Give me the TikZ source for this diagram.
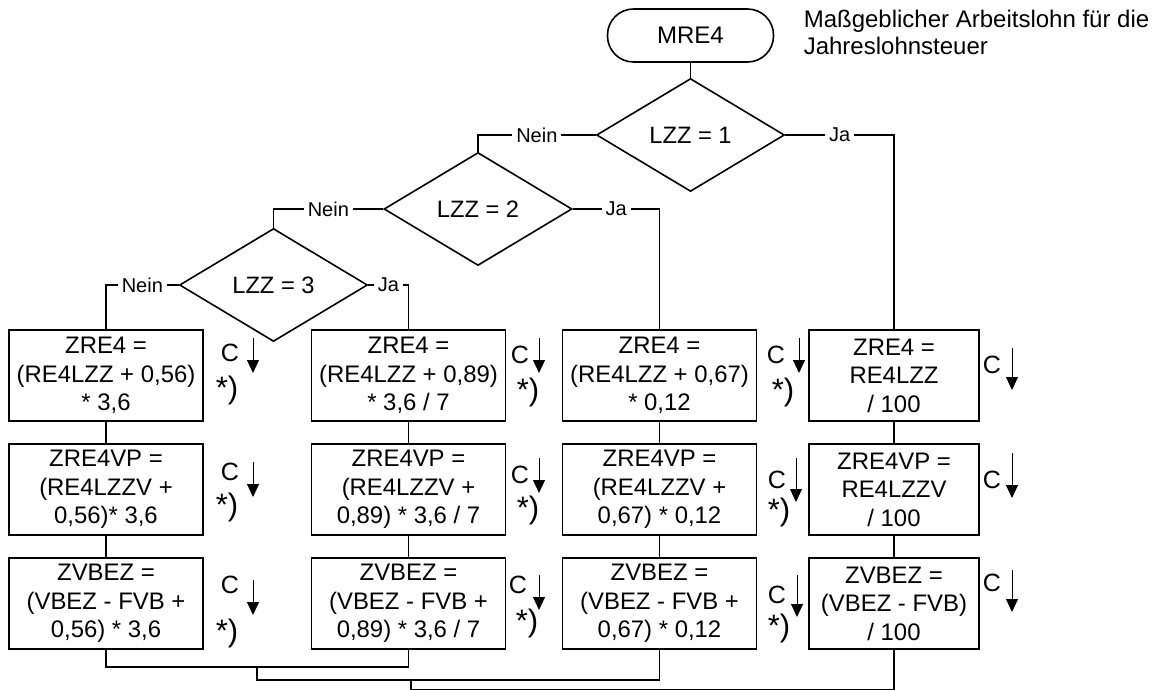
\documentclass[tikz,border=0pt]{standalone}
\usepackage{fontspec}
\setmainfont{Liberation Sans}
\usetikzlibrary{arrows.meta, positioning, calc, shapes.geometric}

\tikzset{
  term/.style={draw, rounded corners=26pt, minimum width=166pt, minimum height=53pt, font=\fontsize{24}{28}\selectfont},
  test/.style={draw, diamond, minimum width=188pt, minimum height=113pt, inner sep=0pt, font=\fontsize{23.7}{28}\selectfont},
  calcbox/.style={draw, minimum width=194pt, minimum height=91pt, inner sep=2pt, align=center, font=\fontsize{23.9}{28.5}\selectfont},
  lbl/.style={fill=white, inner xsep=4pt, inner ysep=1pt, font=\fontsize{20}{24}\selectfont},
  hint/.style={inner sep=0pt, font=\fontsize{25}{28}\selectfont},
  star/.style={inner sep=0pt, font=\fontsize{31}{34}\selectfont},
  hintarrow/.style={line width=1pt, -{Triangle[length=13pt,width=12pt]}}
}

\begin{document}
\begin{tikzpicture}[x=1pt, y=-1pt, line width=1.6pt]
				\useasboundingbox (0,0) rectangle (1161,690);
				
				% Start and remark
				\node[term] (mre4) at (690.5,35.5) {MRE4};
				\node[anchor=north west, align=left, inner sep=0pt, font=\fontsize{24}{27}\selectfont] (remark) at (803,9.5) {Maßgeblicher Arbeitslohn für die\\Jahreslohnsteuer};
				
				% Decisions
				\node[test] (lzz1) at (690.5,135) {LZZ = 1};
				\node[test] (lzz2) at (478,209) {LZZ = 2};
				\node[test] (lzz3) at (273.5,285) {LZZ = 3};
				
				% First row
				\node[calcbox] (zre1) at (106,375.5) {ZRE4 =\\(RE4LZZ + 0,56)\\* 3,6};
				\node[calcbox] (zre2) at (408.5,375.5) {ZRE4 =\\(RE4LZZ + 0,89)\\* 3,6 / 7};
				\node[calcbox] (zre3) at (659.5,375.5) {ZRE4 =\\(RE4LZZ + 0,67)\\* 0,12};
				\node[calcbox, minimum width=170pt] (zre4) at (894,375.5) {ZRE4 =\\RE4LZZ\\/ 100};
				
				% Second row
				\node[calcbox] (zvp1) at (106,489.5) {ZRE4VP =\\(RE4LZZV +\\0,56)* 3,6};
				\node[calcbox] (zvp2) at (408.5,489.5) {ZRE4VP =\\(RE4LZZV +\\0,89) * 3,6 / 7};
				\node[calcbox] (zvp3) at (659.5,489.5) {ZRE4VP =\\(RE4LZZV +\\0,67) * 0,12};
				\node[calcbox, minimum width=170pt] (zvp4) at (894,489.5) {ZRE4VP =\\RE4LZZV\\/ 100};
				
				% Third row
				\node[calcbox] (zvb1) at (106,603.5) {ZVBEZ =\\(VBEZ - FVB +\\0,56) * 3,6};
				\node[calcbox] (zvb2) at (408.5,603.5) {ZVBEZ =\\(VBEZ - FVB +\\0,89) * 3,6 / 7};
				\node[calcbox] (zvb3) at (659.5,603.5) {ZVBEZ =\\(VBEZ - FVB +\\0,67) * 0,12};
				\node[calcbox, minimum width=170pt] (zvb4) at (894,603.5) {ZVBEZ =\\(VBEZ - FVB)\\/ 100};
				
				% Branches
				\draw (mre4) -- (lzz1);
				\draw (lzz1.west) -- node[lbl] {Nein} (lzz1.west -| lzz2.north) -- (lzz2.north);
				\draw (lzz1.east) -- node[lbl] {Ja} (lzz1.east -| zre4.north) -- (zre4.north);
				\draw (lzz2.west) -- node[lbl] {Nein} (lzz2.west -| lzz3.north) -- (lzz3.north);
				\draw (lzz2.east) -- node[lbl] {Ja} (lzz2.east -| zre3.north) -- (zre3.north);
				\draw (lzz3.west) -- node[lbl] {Nein} (lzz3.west -| zre1.north) -- (zre1.north);
				\draw (lzz3.east) -- node[lbl] {Ja} (lzz3.east -| zre2.north) -- (zre2.north);
				
				\foreach \c in {1,2,3,4} {
					\draw (zre\c) -- (zvp\c);
					\draw (zvp\c) -- (zvb\c);
				}
				
				% Joining the columns
				\draw (zvb1.south) -- ++(0,17) coordinate (m1) -| (zvb2.south);
				\coordinate (m12) at ($(m1)!0.5!(m1 -| zvb2.south)$);
				\draw (m12) -- ++(0,13) coordinate (m2) -| (zvb3.south);
				\coordinate (m123) at ($(m2 -| zvb2.south)+(2.5,0)$);
				\draw (m123) -- ++(0,10) -| (zvb4.south);
				
				% Rounding marks
				\foreach \nm/\x/\y in {c1/230/353, c2/230/472, c3/230/585, c4/520/355, c5/520/475, c6/518/585, c7/776/355, c8/777/480, c9/777/595, c10/992/365, c11/992/480, c12/992/583} {
					\node[hint] (\nm) at (\x,\y) {C};
				}
				\foreach \x/\ya/\yb in {253/338/373, 253/462/497, 253/580/615, 539/338/373, 539/458/493, 539/575/610, 799/338/373, 796/458/502, 797/575/617, 1012/348/390, 1012/453/498, 1012/570/612} {
					\draw[hintarrow] (\x,\ya) -- (\x,\yb);
				}
				\foreach \nm/\x/\y in {s1/227/390, s2/227/507, s3/227/633, s4/528/392, s5/528/510, s6/527/623, s7/783/392, s8/779/512, s9/779/628} {
					\node[star] (\nm) at (\x,\y) {*)};
				}
			\end{tikzpicture}
\end{document}
